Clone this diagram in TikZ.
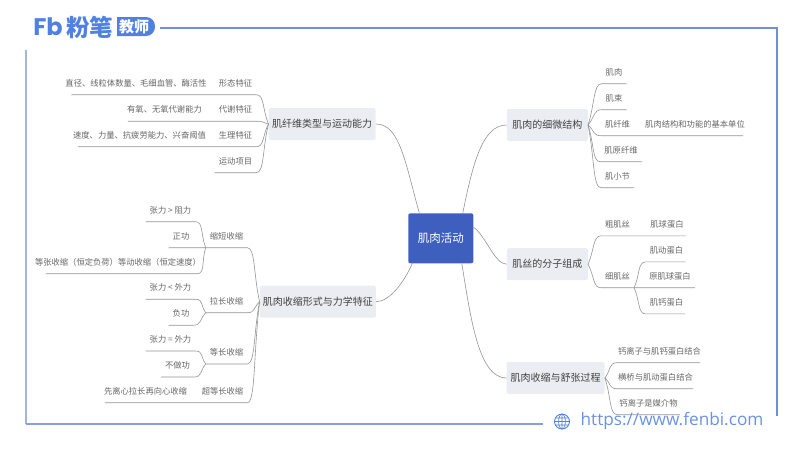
\documentclass[tikz,border=0pt]{standalone}
\usepackage{fontspec}
\setmainfont{Noto Sans CJK SC}
\newfontfamily\urlfont{Open Sans}
\newfontfamily\logofont{Poppins}
\usetikzlibrary{calc,positioning}

\definecolor{framecol}{HTML}{7090DC}
\definecolor{frameleft}{HTML}{A3B4DF}
\definecolor{logocol}{HTML}{4F80E2}
\definecolor{rootcol}{HTML}{3F5FBF}
\definecolor{topiccol}{HTML}{ECEDF3}

\tikzset{
  branch/.style={draw=black!42, line width=0.6pt},
  rootbox/.style={fill=rootcol, rounded corners=2pt, text=white, minimum width=65pt, minimum height=50pt, inner sep=0pt, font=\fontsize{11.5}{13}\selectfont},
  topic/.style={fill=topiccol, rounded corners=1.5pt, text=black!75, minimum height=32pt, inner sep=0pt, font=\fontsize{10}{12}\selectfont},
  leaf/.style={text=black!60, minimum height=23pt, inner ysep=0pt, inner xsep=4pt, font=\fontsize{8.3}{10}\selectfont},
}

% line under a leaf, then its curve into the parent
\newcommand{\lbranch}[3]{\draw[branch] (#1) -- (#2) .. controls +(8,0) and ($(#2)!.5!(#3)$) .. (#3);}
\newcommand{\rbranch}[3]{\draw[branch] (#1) -- (#2) .. controls +(-8,0) and ($(#2)!.5!(#3)$) .. (#3);}

\begin{document}
\begin{tikzpicture}[x=1pt,y=-1pt]
  \useasboundingbox (0,0) rectangle (800,450);

  % frame and logo
  \draw[framecol, line width=1.3pt] (160,28) -- (777,28) -- (777,416);
  \draw[frameleft, line width=1.3pt] (26,50) -- (26,424);
  \draw[framecol!85, line width=1.3pt] (26,424) -- (543,424);
  \node[inner sep=0pt, text=logocol, font=\logofont\bfseries\fontsize{24}{24}\selectfont] (logofb) at (48,26.5) {Fb};
  \node[inner sep=0pt, text=logocol, font=\bfseries\fontsize{23.5}{23.5}\selectfont] (logoname) at (89.5,27) {粉笔};
  \fill[logocol] (117,17) [rounded corners=9pt] -- (155,17) -- (155,36) [sharp corners] -- (117,36) -- cycle;
  \node[inner sep=0pt, text=white, font=\bfseries\fontsize{15}{15}\selectfont] (logotag) at (134,27) {教师};

  % url
  \draw[logocol, line width=0.9pt] (562,421.5) circle (7.5);
  \draw[logocol, line width=0.6pt] (562,421.5) ellipse (3.4 and 7.5) (554.5,421.5) -- (569.5,421.5) (562,414) -- (562,429) (555.5,418) -- (568.5,418) (555.5,425) -- (568.5,425);
  \node[inner sep=0pt, text=logocol!85, font=\urlfont\fontsize{17.2}{18}\selectfont] (site) at (672,421) {https://www.fenbi.com};

  % root and topics
  \node[rootbox] (root) at (440.8,238.3) {肌肉活动};
  \node[topic, minimum width=107pt] (fiber) at (322.2,124) {肌纤维类型与运动能力};
  \node[topic, minimum width=116pt] (form) at (317.8,301.7) {肌肉收缩形式与力学特征};
  \node[topic, minimum width=81pt] (micro) at (547.3,125) {肌肉的细微结构};
  \node[topic, minimum width=81pt] (mol) at (547.3,264.2) {肌丝的分子组成};
  \node[topic, minimum width=98pt] (cycle) at (555.7,378) {肌肉收缩与舒张过程};

  \draw[branch] (fiber.east) .. controls +(24,0) and +(-14,-50) .. ([xshift=-21.5pt]root.north);
  \draw[branch] (form.east) .. controls +(14,0) and +(-8,18) .. ([xshift=-28.5pt]root.south);
  \draw[branch] (micro.west) .. controls +(-24,0) and +(10,-50) .. ([xshift=22pt]root.north);
  \draw[branch] (mol.west) .. controls +(-12,0) and +(12,8) .. ([yshift=11pt]root.east);
  \draw[branch] (cycle.west) .. controls +(-28,0) and +(9,55) .. ([xshift=21pt]root.south);

  % fiber types
  \node[leaf] (shape) at (235.5,83) {形态特征};
  \node[leaf] (meta) at (235.5,109.5) {代谢特征};
  \node[leaf] (phys) at (235.5,135) {生理特征};
  \node[leaf] (sport) at (235.5,161) {运动项目};
  \node[leaf] (shapea) at (136,83) {直径、线粒体数量、毛细血管、酶活性};
  \node[leaf] (metaa) at (164.5,109.5) {有氧、无氧代谢能力};
  \node[leaf] (physa) at (139.5,135) {速度、力量、抗疲劳能力、兴奋阈值};
  \lbranch{[xshift=10pt]shapea.south west}{shape.south east}{fiber.west}
  \lbranch{[xshift=5pt]metaa.south west}{meta.south east}{fiber.west}
  \lbranch{[xshift=9pt]physa.south west}{phys.south east}{fiber.west}
  \lbranch{sport.south west}{sport.south east}{fiber.west}

  % contraction forms
  \node[leaf] (short) at (226.5,236) {缩短收缩};
  \node[leaf] (longer) at (226.5,301) {拉长收缩};
  \node[leaf] (iso) at (226.5,352.3) {等长收缩};
  \node[leaf] (plyo) at (222.5,391) {超等长收缩};
  \lbranch{short.south west}{short.south east}{form.west}
  \lbranch{longer.south west}{longer.south east}{form.west}
  \lbranch{iso.south west}{iso.south east}{form.west}
  \node[leaf] (plyoa) at (145.5,391) {先离心拉长再向心收缩};
  \lbranch{[xshift=5pt]plyoa.south west}{plyo.south east}{form.west}

  \node[leaf] (shorta) at (170.5,210) {张力 > 阻力};
  \node[leaf] (shortb) at (181,236) {正功};
  \node[leaf] (shortc) at (118,262) {等张收缩（恒定负荷）等动收缩（恒定速度）};
  \lbranch{shorta.south west}{shorta.south east}{short.south west}
  \lbranch{shortb.south west}{shortb.south east}{short.south west}
  \lbranch{[xshift=15pt]shortc.south west}{[xshift=-8pt]shortc.south east}{short.south west}

  \node[leaf] (longa) at (170.5,287.5) {张力 < 外力};
  \node[leaf] (longb) at (181,313.5) {负功};
  \lbranch{longa.south west}{longa.south east}{longer.south west}
  \lbranch{longb.south west}{longb.south east}{longer.south west}

  \node[leaf] (isoa) at (170.5,339.3) {张力 = 外力};
  \node[leaf] (isob) at (177.5,365.3) {不做功};
  \lbranch{isoa.south west}{isoa.south east}{iso.south west}
  \lbranch{isob.south west}{isob.south east}{iso.south west}

  % micro structure
  \node[leaf] (muscle) at (614,72) {肌肉};
  \node[leaf] (bundle) at (614,98) {肌束};
  \node[leaf] (cell) at (617.5,124) {肌纤维};
  \node[leaf] (cella) at (695,124) {肌肉结构和功能的基本单位};
  \node[leaf] (myo) at (621,150) {肌原纤维};
  \node[leaf] (sarc) at (617.5,176) {肌小节};
  \rbranch{muscle.south east}{muscle.south west}{micro.east}
  \rbranch{bundle.south east}{bundle.south west}{micro.east}
  \rbranch{[xshift=-6pt]cella.south east}{cell.south west}{micro.east}
  \rbranch{myo.south east}{myo.south west}{micro.east}
  \rbranch{sarc.south east}{sarc.south west}{micro.east}

  % filaments
  \node[leaf] (thick) at (617.5,224.2) {粗肌丝};
  \node[leaf] (thicka) at (667,224.2) {肌球蛋白};
  \node[leaf] (thin) at (617.5,276) {细肌丝};
  \rbranch{[xshift=-2pt]thicka.south east}{thick.south west}{mol.east}
  \rbranch{thin.south east}{thin.south west}{mol.east}
  \node[leaf] (actin) at (666.5,250.2) {肌动蛋白};
  \node[leaf] (tropm) at (670,276) {原肌球蛋白};
  \node[leaf] (tropn) at (666.5,302.2) {肌钙蛋白};
  \rbranch{[xshift=-2pt]actin.south east}{actin.south west}{thin.south east}
  \rbranch{tropm.south east}{tropm.south west}{thin.south east}
  \rbranch{[xshift=-2pt]tropn.south east}{tropn.south west}{thin.south east}

  % contraction cycle
  \node[leaf] (calc) at (659.5,351) {钙离子与肌钙蛋白结合};
  \node[leaf] (bridge) at (655.5,377) {横桥与肌动蛋白结合};
  \node[leaf] (medium) at (648.5,403) {钙离子是媒介物};
  \rbranch{[xshift=-5pt]calc.south east}{[xshift=3pt]calc.south west}{cycle.east}
  \rbranch{[xshift=-4pt]bridge.south east}{[xshift=3pt]bridge.south west}{cycle.east}
  \rbranch{[xshift=-2pt]medium.south east}{[xshift=2pt]medium.south west}{cycle.east}
\end{tikzpicture}
\end{document}
